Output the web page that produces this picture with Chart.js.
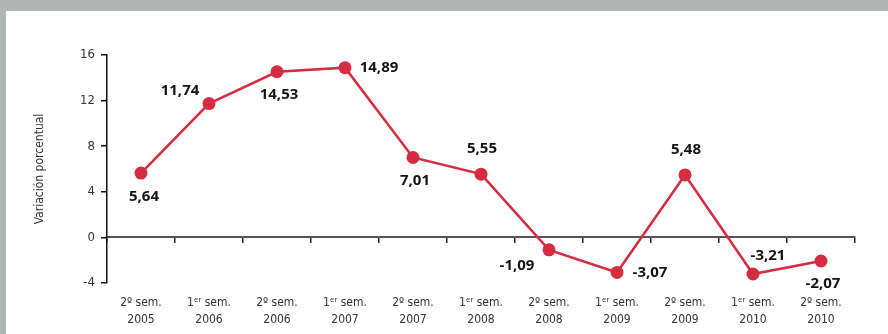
<!DOCTYPE html>
<html>
<head>
<meta charset="utf-8">
<script src="https://cdn.jsdelivr.net/npm/chart.js@4"></script>
<style>
  html, body { margin: 0; padding: 0; }
  body { width: 888px; height: 334px; background: #aeb6b3; position: relative; overflow: hidden; }
  #box { position: absolute; left: 6px; top: 11px; width: 882px; height: 323px; background: #ffffff; }
</style>
</head>
<body>
<div id="box"><canvas id="myLineChart" width="882" height="323"></canvas></div>
<script>
// datos
const semestres = ['2º sem.', '1ᵉʳ sem.', '2º sem.', '1ᵉʳ sem.', '2º sem.', '1ᵉʳ sem.', '2º sem.', '1ᵉʳ sem.', '2º sem.', '1ᵉʳ sem.', '2º sem.'];
const anios = ['2005', '2006', '2006', '2007', '2007', '2008', '2008', '2009', '2009', '2010', '2010'];
const variacion = [5.64, 11.74, 14.53, 14.89, 7.01, 5.55, -1.09, -3.07, 5.48, -3.21, -2.07];
const yTicks = [-4, 0, 4, 8, 12, 16];

// posicion de cada etiqueta respecto al punto (dx, dy)
const labelOffsets = [[3, 24], [-29, -13], [2, 23], [34, 0], [2, 23], [1, -25], [-32, 16], [33, 0], [1, -25], [15, -18], [2, 23]];

const narrow = "'Liberation Sans Narrow', 'DejaVu Sans Condensed', 'Roboto', sans-serif";
const red = '#d42c40';

const labels = semestres.map((s, i) => [s, anios[i]]);

// etiquetas de valores
const valueLabels = {
  id: 'valueLabels',
  afterDatasetsDraw(chart) {
    const ctx = chart.ctx;
    const meta = chart.getDatasetMeta(0);
    ctx.save();
    ctx.font = "bold 15px 'Open Sans', sans-serif";
    ctx.fillStyle = '#141414';
    ctx.textAlign = 'center';
    ctx.textBaseline = 'middle';
    meta.data.forEach((pt, i) => {
      const txt = variacion[i].toFixed(2).replace('.', ',');
      const off = labelOffsets[i];
      ctx.fillText(txt, pt.x + off[0], pt.y + off[1]);
    });
    ctx.restore();
  }
};

const ctx_line = document.getElementById('myLineChart').getContext('2d');
const myChart_line = new Chart(ctx_line, {
  type: 'line',
  data: {
    labels: labels,
    datasets: [{
      data: variacion,
      borderColor: red,
      backgroundColor: red,
      borderWidth: 2.5,
      pointRadius: 6.5,
      pointHoverRadius: 6.5,
      pointBackgroundColor: red,
      pointBorderWidth: 0,
      tension: 0
    }]
  },
  options: {
    responsive: false,
    animation: false,
    events: [],
    layout: { padding: { top: 44, right: 33, bottom: 0, left: 0 } },
    plugins: {
      legend: { display: false },
      tooltip: { enabled: false }
    },
    scales: {
      x: {
        type: 'category',
        position: 'bottom',
        offset: true,
        border: { display: false },
        grid: { display: false, drawTicks: false },
        ticks: {
          padding: 11,
          maxRotation: 0,
          autoSkip: false,
          color: '#333333',
          font: { family: narrow, size: 12, lineHeight: 1.45 }
        },
        afterFit(scale) { scale.height = 51; }
      },
      x0: {
        type: 'category',
        position: { y: 0 },
        offset: true,
        border: { display: true, color: '#555555', width: 2 },
        grid: { offset: true, drawOnChartArea: false, drawTicks: true, tickLength: 5, color: '#222222', lineWidth: 1.5 },
        ticks: { display: false }
      },
      y: {
        min: -4,
        max: 16,
        afterBuildTicks(scale) { scale.ticks = yTicks.map(v => ({ value: v })); },
        border: { display: true, color: '#111111', width: 1.5 },
        grid: { drawOnChartArea: false, drawTicks: true, tickLength: 6, color: '#111111', lineWidth: 1.5 },
        ticks: {
          padding: 6,
          color: '#333333',
          font: { family: narrow, size: 13 }
        },
        title: {
          display: true,
          text: 'Variación porcentual',
          color: '#333333',
          padding: { top: 27, bottom: 0 },
          font: { family: narrow, size: 12 }
        },
        afterFit(scale) { scale.width = 101; }
      }
    }
  },
  plugins: [valueLabels]
});
</script>
</body>
</html>
